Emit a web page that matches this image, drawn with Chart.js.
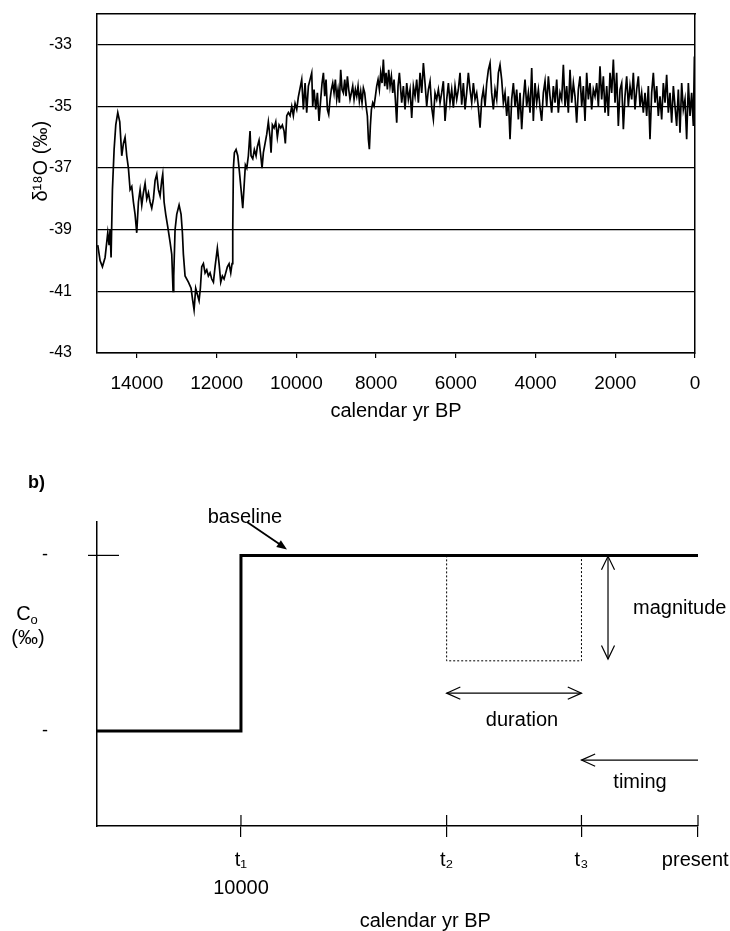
<!DOCTYPE html>
<html><head><meta charset="utf-8">
<script src="https://cdn.jsdelivr.net/npm/chart.js@4.4.1/dist/chart.umd.min.js"></script>
<style>
html,body{margin:0;padding:0;background:#fff;}
#wrap{position:relative;width:730px;height:931px;background:#fff;}
#c1{position:absolute;left:0;top:0;}
#c2{position:absolute;left:0;top:440px;}
</style></head><body>
<div id="wrap"><canvas id="c1" width="730" height="440"></canvas><canvas id="c2" width="730" height="491"></canvas></div>
<script>
// ---------------- DATA: panel a (delta18O record, calendar yr BP) ----------------
const yrLateGlacial = [14981,14923,14864,14797,14730,14697,14672,14647,14613,14571,14529,14479,14429,14379,14337,14296,14254,14212,14170,14128,14087,14045,14003,13961,13919,13877,13836,13794,13752,13710,13669,13627,13585,13543,13501,13460,13418,13376,13351,13317,13276,13226,13167,13125,13092,13075,13042,13000,12941,12891,12858,12833,12791,12707,12640,12599,12565,12524,12482,12440,12407,12373,12331];
const d18OLateGlacial = [-39.5,-40.0,-40.2,-39.9,-39.1,-39.5,-39.0,-39.9,-37.7,-36.4,-35.6,-35.2,-35.5,-36.6,-36.2,-36.0,-36.6,-37.0,-37.7,-37.6,-38.1,-38.5,-39.1,-38.1,-37.7,-38.2,-37.8,-37.5,-38.0,-37.8,-38.1,-38.3,-38.0,-37.4,-37.2,-37.7,-37.9,-37.4,-37.2,-38.1,-38.5,-38.9,-39.4,-39.8,-41.0,-40.5,-39.0,-38.5,-38.2,-38.5,-39.1,-39.8,-40.5,-40.7,-40.9,-41.3,-41.6,-40.9,-41.1,-41.3,-40.9,-40.2,-40.1];
const yrTransition = [12289,12247,12206,12164,12122,12080,12038,11981,11938,11896,11855,11813,11771,11730,11687,11645,11612,11595,11579,11554,11512,11469,11429,11386,11344,11311,11278,11243,11203,11161,11136,11093,11053,11010,10977,10935,10892,10860,10827,10784,10742,10702,10659,10634,10601,10559,10516,10476,10433,10391,10351,10308,10276,10240,10200,10157,10115,10075,10032,9990,9950];
const d18OTransition = [-40.4,-40.3,-40.5,-40.4,-40.6,-40.7,-40.2,-39.6,-40.1,-40.7,-40.5,-40.6,-40.4,-40.2,-40.1,-40.4,-40.1,-39.0,-37.0,-36.5,-36.4,-36.6,-37.1,-37.7,-38.3,-37.6,-36.9,-37.0,-36.6,-35.8,-36.6,-36.7,-36.4,-36.6,-36.3,-36.1,-36.6,-37.0,-36.5,-36.2,-35.9,-35.5,-36.0,-36.5,-35.6,-35.7,-35.5,-36.0,-35.6,-35.7,-35.6,-35.8,-36.2,-35.3,-35.2,-35.3,-35.0,-35.3,-34.9,-35.1,-34.7];
const yrEarlyHolocene = [9865,9823,9781,9740,9698,9656,9614,9589,9555,9513,9472,9430,9388,9355,9321,9288,9255,9221,9188,9154,9121,9087,9054,9021,8987,8954,8920,8887,8853,8820,8786,8753,8719,8686,8653,8619,8586,8552,8519,8485,8452,8419,8385,8352,8318,8285,8251,8218,8193,8168,8143,8117,8084,8051,8017,7984,7950,7917,7884,7850,7817,7783,7750,7716,7683,7649,7616,7582,7549,7516,7482,7449,7415];
const d18OEarlyHolocene = [-34.13,-35.10,-34.24,-35.20,-34.34,-34.13,-33.91,-34.99,-34.45,-35.10,-34.56,-35.47,-34.77,-34.24,-33.91,-34.67,-34.13,-35.10,-35.26,-34.77,-34.45,-34.24,-34.56,-34.13,-34.77,-34.45,-34.88,-33.81,-34.45,-34.56,-34.13,-34.67,-34.02,-34.45,-34.77,-34.56,-34.34,-34.77,-34.45,-34.67,-34.34,-34.83,-34.51,-34.88,-34.40,-34.56,-34.99,-35.31,-36.06,-36.39,-35.63,-35.10,-34.88,-34.99,-34.67,-34.34,-34.13,-34.45,-33.91,-34.24,-33.48,-34.34,-33.91,-34.45,-33.81,-34.34,-34.02,-34.56,-34.13,-34.77,-35.53,-34.34,-33.91];
const yrMidHolocene = [7357,7315,7273,7231,7190,7148,7106,7064,7022,6981,6939,6897,6855,6813,6772,6730,6688,6646,6604,6563,6521,6479,6437,6395,6354,6312,6270,6228,6186,6145,6103,6061,6019,5977,5936,5894,5852,5810,5768,5727,5685,5643,5601,5559,5518,5476,5434,5392,5350,5309,5267,5225,5183,5141,5100,5058,5016,4974,4932];
const d18OMidHolocene = [-34.88,-34.34,-35.10,-34.24,-34.77,-34.45,-35.37,-34.34,-34.67,-34.13,-34.88,-33.91,-34.56,-33.59,-34.24,-34.99,-34.45,-34.18,-35.04,-35.42,-34.56,-34.77,-34.45,-34.88,-34.56,-34.18,-35.47,-34.77,-34.24,-34.88,-34.45,-35.04,-34.34,-34.77,-34.45,-33.91,-34.94,-34.24,-35.10,-34.56,-33.91,-34.45,-34.88,-34.24,-34.77,-34.56,-35.04,-35.69,-34.77,-34.45,-34.99,-34.24,-33.81,-33.59,-34.56,-35.10,-34.45,-34.77,-33.91];
const yrLateHolocene1 = [4891,4849,4807,4765,4723,4682,4640,4598,4556,4514,4473,4431,4389,4347,4305,4264,4222,4180,4138,4096,4055,4013,3971,3929,3887,3846,3804,3762,3720,3678,3637,3595,3553,3511,3469,3428,3386,3344,3302,3260,3219,3177,3135,3093,3051,3010,2968,2926,2884,2842,2801,2759,2717,2675,2633,2592,2550];
const d18OLateHolocene1 = [-33.65,-34.13,-34.88,-34.56,-35.31,-34.67,-36.06,-34.77,-34.24,-34.99,-34.45,-35.42,-34.56,-35.74,-34.77,-34.13,-34.99,-34.56,-35.20,-33.75,-35.47,-34.24,-34.88,-34.45,-35.04,-35.47,-34.56,-34.18,-34.99,-34.02,-34.67,-35.20,-34.34,-34.88,-34.13,-35.20,-34.56,-34.77,-33.65,-34.99,-34.34,-35.20,-33.81,-34.88,-34.24,-34.67,-35.53,-34.45,-34.02,-34.99,-34.34,-35.47,-33.91,-34.77,-34.24,-35.10,-34.45];
const yrLateHolocene2 = [2508,2466,2424,2383,2341,2299,2257,2215,2174,2132,2090,2048,2006,1965,1923,1881,1839,1797,1756,1714,1672,1630,1588,1547,1505,1463,1421,1379,1338,1296,1254,1212,1170,1129,1087,1045,1003,961,920,878,836,794,752,711,669,627,585,543,502,460,418,376,334,293,251,209,167,125,84,42,15,0];
const d18OLateHolocene2 = [-34.67,-34.24,-34.99,-33.70,-34.77,-34.02,-35.20,-34.34,-35.31,-33.91,-34.56,-33.48,-34.88,-33.91,-35.63,-34.45,-34.24,-35.74,-34.67,-34.02,-34.99,-34.34,-34.77,-33.91,-35.10,-34.45,-34.02,-34.99,-34.56,-35.20,-34.56,-35.31,-34.34,-36.06,-34.56,-33.91,-34.88,-34.34,-35.31,-34.67,-35.42,-34.24,-34.88,-33.97,-35.20,-34.56,-35.53,-34.34,-34.99,-35.63,-34.45,-35.85,-34.24,-35.10,-34.77,-36.06,-34.24,-35.31,-34.56,-35.63,-33.38,-36.39];
const xTickValues = [14000,12000,10000,8000,6000,4000,2000,0];
const yTickValues = [-43,-41,-39,-37,-35,-33];

// ---------------- DATA: panel b (schematic) ----------------
const bTickValues = [10000, 5500, 2550, 0];
const bTickLabels = [['t\u2081','10000'], 't\u2082', 't\u2083', 'present '];
const levelX = [13150, 10000, 10000, 0];
const levelY = [0, 0, 1, 1];
const eventX = [5500, 5500, 2550, 2550];
const eventY = [1, 0.4, 0.4, 1];
const bYTickValues = [0, 1];

// ---------------- rendering ----------------
const FONT = '"Liberation Sans", Arial, Helvetica, sans-serif';
const BLACK = '#000';

const allYears = [].concat(yrLateGlacial, yrTransition, yrEarlyHolocene, yrMidHolocene, yrLateHolocene1, yrLateHolocene2);
const allD18O = [].concat(d18OLateGlacial, d18OTransition, d18OEarlyHolocene, d18OMidHolocene, d18OLateHolocene1, d18OLateHolocene2);

// keep the plot area fixed: ignore label-overflow padding that Chart.js would add
function fixBox(w, h) {
  return s => {
    if (w !== null) s.width = w;
    if (h !== null) s.height = h;
    s.paddingTop = 0; s.paddingBottom = 0; s.paddingLeft = 0; s.paddingRight = 0;
  };
}

new Chart(document.getElementById('c1'), {
  type: 'line',
  data: { datasets: [{
    data: allYears.map((t, i) => ({x: t, y: allD18O[i]})),
    borderColor: BLACK, borderWidth: 1.7, pointRadius: 0, tension: 0, fill: false
  }]},
  options: {
    responsive: false, animation: false, events: [],
    layout: {padding: {top: 14, right: 35, left: 0, bottom: 0}},
    plugins: {legend: {display: false}, tooltip: {enabled: false}},
    scales: {
      x: {
        type: 'linear', position: 'bottom', min: 0, max: 15000, reverse: true,
        afterBuildTicks: s => { s.ticks = xTickValues.map(v => ({value: v})); },
        afterFit: fixBox(null, 87),
        ticks: {autoSkip: false, maxRotation: 0, padding: 14, color: BLACK, font: {family: FONT, size: 19}, callback: v => String(v)},
        grid: {drawOnChartArea: false, drawTicks: true, tickLength: 5, color: BLACK, lineWidth: 1.2},
        border: {display: true, color: BLACK, width: 1.5},
        title: {display: true, text: 'calendar yr BP', color: BLACK, font: {family: FONT, size: 20}, padding: {top: 0, bottom: 17}}
      },
      y: {
        type: 'linear', position: 'left', min: -43, max: -32,
        afterBuildTicks: s => { s.ticks = yTickValues.map(v => ({value: v})); },
        afterFit: fixBox(97, null),
        ticks: {padding: 25, color: BLACK, font: {family: FONT, size: 16}, callback: v => String(v)},
        grid: {drawTicks: false, color: BLACK, lineWidth: 1.3},
        border: {display: true, color: BLACK, width: 1.5},
        title: {display: true, text: '        \u03B4\u00B9\u2078O (\u2030)', color: BLACK, font: {family: FONT, size: 20}, padding: {top: 29, bottom: 0}}
      },
      x2: {
        type: 'linear', position: 'top', display: true,
        afterFit: fixBox(null, 0),
        ticks: {display: false}, grid: {display: false, drawTicks: false},
        border: {display: true, color: BLACK, width: 1.5}
      },
      y2: {
        type: 'linear', position: 'right', display: true,
        afterFit: fixBox(0, null),
        ticks: {display: false}, grid: {display: false, drawTicks: false},
        border: {display: true, color: BLACK, width: 1.5}
      }
    }
  }
});

// annotation placement for panel b, in data units of its axes
const schematicLayout = {
  baselineText: {x: 9912, y: 1.216},
  baselineArrow: {x: [9868, 8993], y: [1.19, 1.034]},
  magnitudeArrow: {x: 1969, y: [0.995, 0.41]},
  magnitudeText: {x: 1422, y: 0.70},
  durationArrowY: 0.216,
  durationText: {x: 3851, y: 0.0625},
  timingArrowY: -0.165,
  timingText: {x: 1269, y: -0.29},
  yTitleY: [0.665, 0.525]
};

function openHead(ctx, x, y, ang, len, spread) {
  ctx.beginPath();
  ctx.moveTo(x - len * Math.cos(ang - spread), y - len * Math.sin(ang - spread));
  ctx.lineTo(x, y);
  ctx.lineTo(x - len * Math.cos(ang + spread), y - len * Math.sin(ang + spread));
  ctx.stroke();
}
function filledHead(ctx, x, y, ang, len, spread) {
  ctx.beginPath();
  ctx.moveTo(x, y);
  ctx.lineTo(x - len * Math.cos(ang - spread), y - len * Math.sin(ang - spread));
  ctx.lineTo(x - len * Math.cos(ang + spread), y - len * Math.sin(ang + spread));
  ctx.closePath();
  ctx.fill();
}
function seg(ctx, x1, y1, x2, y2) {
  ctx.beginPath(); ctx.moveTo(x1, y1); ctx.lineTo(x2, y2); ctx.stroke();
}

const schematicPlugin = {
  id: 'schematic',
  afterDraw(chart) {
    const {ctx, chartArea: ca, scales: {x, y}} = chart;
    const X = v => x.getPixelForValue(v), Y = v => y.getPixelForValue(v);
    const L = schematicLayout;
    ctx.save();
    ctx.strokeStyle = BLACK; ctx.fillStyle = BLACK; ctx.lineWidth = 1.2;
    // upper halves of the crossing x tick marks
    bTickValues.forEach(v => seg(ctx, X(v), ca.bottom, X(v), ca.bottom - 11));
    // crossing tick on y axis at the upper level
    seg(ctx, ca.left - 9, Y(1), ca.left + 22, Y(1));
    // panel letter
    ctx.font = 'bold 18px ' + FONT; ctx.textBaseline = 'middle'; ctx.textAlign = 'left';
    ctx.fillText('b)', 28, 43);
    // y-axis title C_o (‰)
    ctx.font = '20px ' + FONT;
    const wC = ctx.measureText('C').width;
    ctx.font = '13px ' + FONT;
    const wo = ctx.measureText('o').width;
    const cx0 = 27 - (wC + wo) / 2;
    ctx.font = '20px ' + FONT; ctx.textAlign = 'left';
    ctx.fillText('C', cx0, Y(L.yTitleY[0]));
    ctx.font = '13px ' + FONT;
    ctx.fillText('o', cx0 + wC, Y(L.yTitleY[0]) + 6);
    ctx.font = '20px ' + FONT; ctx.textAlign = 'center';
    ctx.fillText('(\u2030)', 28, Y(L.yTitleY[1]));
    // baseline label + arrow
    ctx.fillText('baseline', X(L.baselineText.x), Y(L.baselineText.y));
    const bx1 = X(L.baselineArrow.x[0]), by1 = Y(L.baselineArrow.y[0]);
    const bx2 = X(L.baselineArrow.x[1]), by2 = Y(L.baselineArrow.y[1]);
    ctx.lineWidth = 1.8;
    seg(ctx, bx1, by1, bx2 - 4, by2 - 3);
    filledHead(ctx, bx2, by2, Math.atan2(by2 - by1, bx2 - bx1), 11, 0.38);
    ctx.lineWidth = 1.2;
    // magnitude arrow (double headed, vertical)
    const mx = X(L.magnitudeArrow.x), my1 = Y(L.magnitudeArrow.y[0]), my2 = Y(L.magnitudeArrow.y[1]);
    seg(ctx, mx, my1, mx, my2);
    openHead(ctx, mx, my1, -Math.PI / 2, 15, 0.45);
    openHead(ctx, mx, my2, Math.PI / 2, 15, 0.45);
    ctx.textAlign = 'left';
    ctx.fillText('magnitude', X(L.magnitudeText.x), Y(L.magnitudeText.y));
    // duration arrow (double headed, horizontal between t2 and t3)
    const dy = Y(L.durationArrowY), dx1 = X(bTickValues[1]), dx2 = X(bTickValues[2]);
    seg(ctx, dx1, dy, dx2, dy);
    openHead(ctx, dx1, dy, Math.PI, 15, 0.42);
    openHead(ctx, dx2, dy, 0, 15, 0.42);
    ctx.textAlign = 'center';
    ctx.fillText('duration', X(L.durationText.x), Y(L.durationText.y));
    // timing arrow (from present back to t3)
    const ty = Y(L.timingArrowY), tx1 = X(bTickValues[3]), tx2 = X(bTickValues[2]);
    seg(ctx, tx1, ty, tx2, ty);
    openHead(ctx, tx2, ty, Math.PI, 15, 0.42);
    ctx.fillText('timing', X(L.timingText.x), Y(L.timingText.y));
    ctx.restore();
  }
};

new Chart(document.getElementById('c2'), {
  type: 'line',
  data: { datasets: [
    {data: levelX.map((t, i) => ({x: t, y: levelY[i]})), borderColor: BLACK, borderWidth: 3, pointRadius: 0, tension: 0, fill: false, borderJoinStyle: 'miter', borderCapStyle: 'butt'},
    {data: eventX.map((t, i) => ({x: t, y: eventY[i]})), borderColor: BLACK, borderWidth: 1, borderDash: [2, 2], pointRadius: 0, tension: 0, fill: false}
  ]},
  options: {
    responsive: false, animation: false, events: [],
    layout: {padding: {top: 82, right: 32, left: 0, bottom: 0}},
    plugins: {legend: {display: false}, tooltip: {enabled: false}},
    scales: {
      x: {
        type: 'linear', position: 'bottom', min: 0, max: 13150, reverse: true,
        afterBuildTicks: s => { s.ticks = bTickValues.map(v => ({value: v})); },
        afterFit: fixBox(null, 105),
        ticks: {autoSkip: false, maxRotation: 0, padding: 9, color: BLACK, font: {family: FONT, size: 20, lineHeight: 1.4}, callback: (v, i) => bTickLabels[i]},
        grid: {drawOnChartArea: false, drawTicks: true, tickLength: 11, color: BLACK, lineWidth: 1.2},
        border: {display: true, color: BLACK, width: 1.5},
        title: {display: true, text: '          calendar yr BP', color: BLACK, font: {family: FONT, size: 20, lineHeight: 1}, padding: {top: 0, bottom: 0}}
      },
      y: {
        type: 'linear', position: 'left', min: -0.54, max: 1.19,
        afterBuildTicks: s => { s.ticks = bYTickValues.map(v => ({value: v})); },
        afterFit: fixBox(97, null),
        ticks: {padding: 49, color: BLACK, font: {family: FONT, size: 18}, callback: () => '-'},
        grid: {display: false, drawTicks: false},
        border: {display: true, color: BLACK, width: 1.5}
      }
    }
  },
  plugins: [schematicPlugin]
});
</script></body></html>
